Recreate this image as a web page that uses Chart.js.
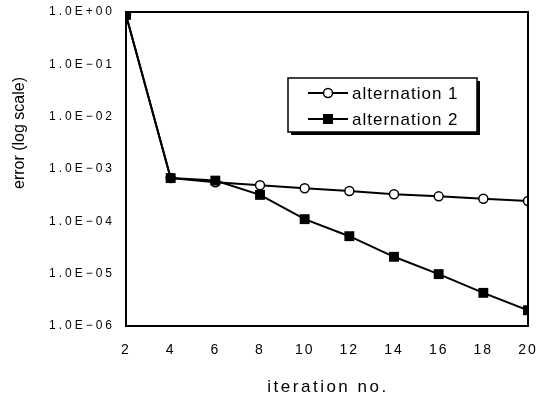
<!DOCTYPE html>
<html>
<head>
<meta charset="utf-8">
<script src="https://cdn.jsdelivr.net/npm/chart.js@4/dist/chart.umd.min.js"></script>
<style>
html,body{margin:0;padding:0;background:#fff;}
#wrap{width:549px;height:399px;position:relative;}
</style>
</head>
<body>
<div id="wrap"><canvas id="c" width="549" height="399"></canvas></div>
<script>
const iterations = [2, 4, 6, 8, 10, 12, 14, 16, 18, 20];
const alternation1 = [0.88, 6.7e-4, 5.6e-4, 4.9e-4, 4.3e-4, 3.8e-4, 3.3e-4, 3.0e-4, 2.7e-4, 2.45e-4];
const alternation2 = [0.88, 6.7e-4, 6.0e-4, 3.2e-4, 1.1e-4, 5.2e-5, 2.1e-5, 9.8e-6, 4.3e-6, 2.0e-6];
const yTicks = [1e0, 1e-1, 1e-2, 1e-3, 1e-4, 1e-5, 1e-6];
const yTickLabels = ['1.0E+00', '1.0E\u221201', '1.0E\u221202', '1.0E\u221203', '1.0E\u221204', '1.0E\u221205', '1.0E\u221206'];
const seriesNames = ['alternation 1', 'alternation 2'];
const xTitle = 'iteration no.';
const yTitle = 'error (log scale)';

const toPts = arr => arr.map((v, i) => ({x: iterations[i], y: v}));

const FONT = '"Liberation Sans", Arial, sans-serif';

const spacingPlugin = {
  id: 'spacing',
  afterLayout(chart) {
    const spec = {x: '2px', y: '3px'};
    Object.keys(spec).forEach(k => {
      const s = chart.scales[k];
      if (s && !s._spPatched) {
        const orig = s.drawLabels;
        s.drawLabels = function (ca) {
          const ctx = this.ctx;
          ctx.save();
          ctx.letterSpacing = spec[k];
          orig.call(this, ca);
          ctx.restore();
        };
        s._spPatched = true;
      }
    });
  }
};

const boxPlugin = {
  id: 'box',
  afterDraw(chart) {
    const {ctx, chartArea: a} = chart;
    ctx.save();
    ctx.strokeStyle = '#000';
    ctx.lineWidth = 2;
    ctx.strokeRect(a.left, a.top, a.right - a.left, a.bottom - a.top);
    ctx.fillStyle = '#000';
    ctx.textBaseline = 'middle';
    ctx.textAlign = 'center';
    ctx.font = '17px ' + FONT;
    ctx.letterSpacing = '2.5px';
    ctx.fillText(xTitle, (a.left + a.right) / 2 + 1, 387);
    ctx.letterSpacing = '0px';
    ctx.font = '16px ' + FONT;
    ctx.translate(20, 133);
    ctx.rotate(-Math.PI / 2);
    ctx.fillText(yTitle, 0, 0);
    ctx.restore();
  }
};

const legendPlugin = {
  id: 'boxLegend',
  afterDraw(chart) {
    const {ctx} = chart;
    const x0 = 288, y0 = 78, w = 189, h = 54;
    ctx.save();
    ctx.fillStyle = '#000';
    ctx.fillRect(x0 + 3, y0 + 3, w, h);
    ctx.fillStyle = '#fff';
    ctx.fillRect(x0, y0, w, h);
    ctx.strokeStyle = '#000';
    ctx.lineWidth = 1.5;
    ctx.strokeRect(x0, y0, w, h);
    const rows = [y0 + 15, y0 + 41];
    chart.data.datasets.slice().sort((p, q) => seriesNames.indexOf(p.label) - seriesNames.indexOf(q.label)).forEach((ds, i) => {
      const yy = rows[i];
      ctx.strokeStyle = '#000';
      ctx.lineWidth = 2;
      ctx.beginPath();
      ctx.moveTo(x0 + 20, yy);
      ctx.lineTo(x0 + 60, yy);
      ctx.stroke();
      if (ds.pointStyle === 'circle') {
        ctx.beginPath();
        ctx.arc(x0 + 40, yy, 4.5, 0, Math.PI * 2);
        ctx.fillStyle = '#fff';
        ctx.fill();
        ctx.lineWidth = 1.5;
        ctx.stroke();
      } else {
        ctx.fillStyle = '#000';
        ctx.fillRect(x0 + 35, yy - 5, 10, 10);
      }
      ctx.fillStyle = '#000';
      ctx.font = '17px ' + FONT;
      ctx.letterSpacing = '1px';
      ctx.textBaseline = 'middle';
      ctx.textAlign = 'left';
      ctx.fillText(ds.label, x0 + 64, yy + 1);
    });
    ctx.restore();
  }
};

new Chart(document.getElementById('c'), {
  type: 'line',
  data: {
    datasets: [
      {
        label: seriesNames[1],
        data: toPts(alternation2),
        borderColor: '#000',
        borderWidth: 2,
        pointStyle: 'rect',
        pointRadius: 7,
        pointBackgroundColor: '#000',
        pointBorderColor: '#000',
        pointBorderWidth: 0,
        tension: 0,
        order: 0
      },
      {
        label: seriesNames[0],
        data: toPts(alternation1),
        borderColor: '#000',
        borderWidth: 2,
        pointStyle: 'circle',
        pointRadius: 4.5,
        pointBackgroundColor: '#fff',
        pointBorderColor: '#000',
        pointBorderWidth: 1.5,
        tension: 0,
        order: 1
      }
    ]
  },
  options: {
    responsive: false,
    animation: false,
    devicePixelRatio: 1,
    layout: {padding: {top: 12, right: 21, left: 0, bottom: 0}},
    plugins: {legend: {display: false}, tooltip: {enabled: false}},
    scales: {
      x: {
        type: 'linear',
        min: 2, max: 20,
        afterBuildTicks(s) { s.ticks = iterations.map(v => ({value: v})); },
        afterFit(s) { s.height = 73; s.paddingLeft = 0; s.paddingRight = 0; },
        grid: {display: false, drawTicks: false},
        border: {display: false},
        ticks: {
          color: '#000', font: {family: FONT, size: 14}, padding: 16,
          maxRotation: 0, autoSkip: false
        },
        title: {display: false}
      },
      y: {
        type: 'logarithmic',
        min: 1e-6, max: 1,
        afterBuildTicks(s) { s.ticks = yTicks.map(v => ({value: v})); },
        afterFit(s) { s.width = 126; s.paddingTop = 0; s.paddingBottom = 0; },
        grid: {display: false, drawTicks: false},
        border: {display: false},
        ticks: {
          color: '#000', font: {family: FONT, size: 12}, padding: 11, autoSkip: false,
          callback: (v) => { const i = yTicks.findIndex(t => Math.abs(Math.log10(t) - Math.log10(v)) < 1e-6); return i >= 0 ? yTickLabels[i] : ''; }
        },
        title: {display: false}
      }
    }
  },
  plugins: [spacingPlugin, boxPlugin, legendPlugin]
});
</script>
</body>
</html>
